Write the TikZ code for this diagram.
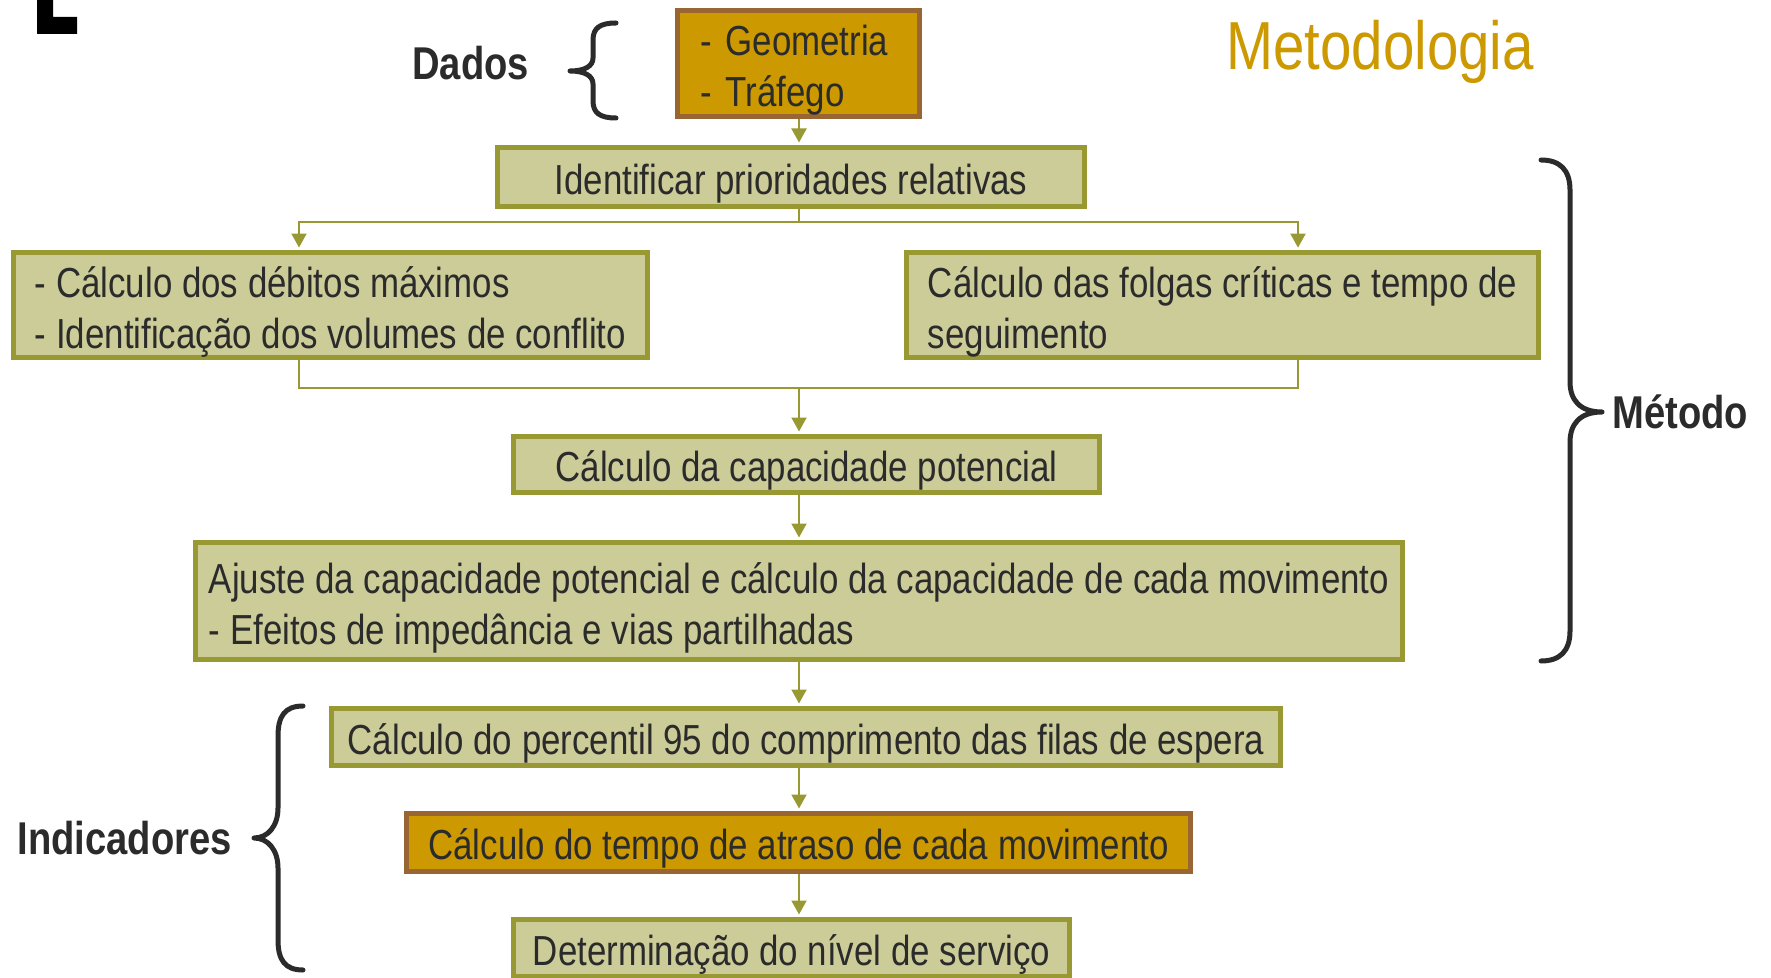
\documentclass[tikz,border=0pt]{standalone}
\usepackage{fontspec}
\setmainfont{Liberation Sans}[FakeStretch=0.83]
\usepackage{tikz}
\usetikzlibrary{arrows.meta,positioning}
\usepackage{xcolor}
\definecolor{boxline}{HTML}{999933}
\definecolor{boxfill}{HTML}{CCCC99}
\definecolor{hotline}{HTML}{996633}
\definecolor{hotfill}{HTML}{CC9900}
\definecolor{ink}{HTML}{2B2B2B}

\begin{document}
\begin{tikzpicture}[
  x=0.5pt,y=-0.5pt,
  box/.style={draw=boxline,fill=boxfill,line width=2.5pt,inner sep=0pt,align=left,text=ink,font=\fontsize{21}{25.5}\selectfont,execute at begin node={\rule{0pt}{21.5pt}}},
  twoline/.style={box,execute at begin node={\rule{0pt}{48pt}}},
  hot/.style={box,draw=hotline,fill=hotfill},
  tag/.style={inner sep=0pt,anchor=base west,text=ink,font=\bfseries\fontsize{23}{28}\selectfont},
  link/.style={boxline,line width=1pt},
  arrow/.style={link,-{Triangle[length=7pt,width=7.5pt]},shorten >=1.25pt},
  curly/.style={ink,line width=2.5pt,line cap=round,line join=round}
]
\useasboundingbox (0,0) rectangle (1771,978);
\fill[black] (37,0) -- (53,0) -- (53,17) -- (77,17) -- (77,34) -- (37,34) -- cycle;

% spine and branch points
\coordinate (spine) at (799,0);
\coordinate (split) at (799,222);
\coordinate (merge) at (799,388.5);
\coordinate (lefttap) at (299,222);
\coordinate (righttap) at (1298,222);

% boxes
\node[hot,text width=98.5pt,inner xsep=11.25pt,minimum height=53pt] (dados) at (798.5,63.5) {- Geometria\\- Tráfego};
\node[box,minimum width=293.5pt,minimum height=29.5pt] (prio) at (791,177) {Identificar prioridades relativas};
\node[twoline,minimum width=317pt,minimum height=51.5pt] (debitos) at (330.5,305) {- Cálculo dos débitos máximos\\- Identificação dos volumes de conflito};
\node[twoline,minimum width=316pt,minimum height=51.5pt] (folgas) at (1222.5,305) {Cálculo das folgas críticas e tempo de\\seguimento};
\node[box,minimum width=293pt,minimum height=28pt] (potencial) at (806.5,464.5) {Cálculo da capacidade potencial};
\node[twoline,minimum width=603.5pt,minimum height=58.5pt] (ajuste) at (799,601) {Ajuste da capacidade potencial e cálculo da capacidade de cada movimento\\- Efeitos de impedância e vias partilhadas};
\node[box,minimum width=474.5pt,minimum height=28.5pt] (percentil) at (806,737) {Cálculo do percentil 95 do comprimento das filas de espera};
\node[hot,minimum width=392pt,minimum height=29pt] (atraso) at (798.5,842.5) {Cálculo do tempo de atraso de cada movimento};
\node[box,minimum width=278pt,minimum height=28.5pt] (nivel) at (791.5,948) {Determinação do nível de serviço};

% labels
\node[inner sep=0pt,anchor=base west,text=hotfill,font=\fontsize{34}{40}\selectfont] (titulo) at (1226,70) {Metodologia};
\node[tag] (dadoslabel) at (412,80) {Dados};
\node[tag] (metodolabel) at (1612,428.5) {Método};
\node[tag] (indlabel) at (17,854.5) {Indicadores};

% connectors
\draw[arrow] (dados.south -| spine) -- (prio.north -| spine);
\draw[link] (prio.south -| spine) -- (split);
\draw[arrow] (split) -| (debitos.north -| lefttap);
\draw[arrow] (split) -| (folgas.north -| righttap);
\draw[link] (debitos.south -| lefttap) |- (merge);
\draw[link] (folgas.south -| righttap) |- (merge);
\draw[arrow] (merge) -- (potencial.north -| spine);
\foreach \a/\b in {potencial/ajuste,ajuste/percentil,percentil/atraso,atraso/nivel}
  \draw[arrow] (\a.south -| spine) -- (\b.north -| spine);

% braces
\draw[curly] (616,23) .. controls (600,23) and (593,28) .. (593,40) -- (593,58) .. controls (593,66) and (585,71) .. (570,71) .. controls (585,71) and (593,76) .. (593,84) -- (593,101) .. controls (593,113) and (600,118) .. (616,118);
\draw[curly] (1541,160) .. controls (1560,160) and (1570,170) .. (1570,190) -- (1570,382) .. controls (1570,400) and (1580,412) .. (1602,412) .. controls (1580,412) and (1570,424) .. (1570,442) -- (1570,631) .. controls (1570,651) and (1560,661) .. (1541,661);
\draw[curly] (303,706) .. controls (285,706) and (278,716) .. (278,736) -- (278,808) .. controls (278,826) and (268,838) .. (254,838) .. controls (268,838) and (278,850) .. (278,868) -- (278,940) .. controls (278,960) and (285,970) .. (303,970);
\end{tikzpicture}
\end{document}
